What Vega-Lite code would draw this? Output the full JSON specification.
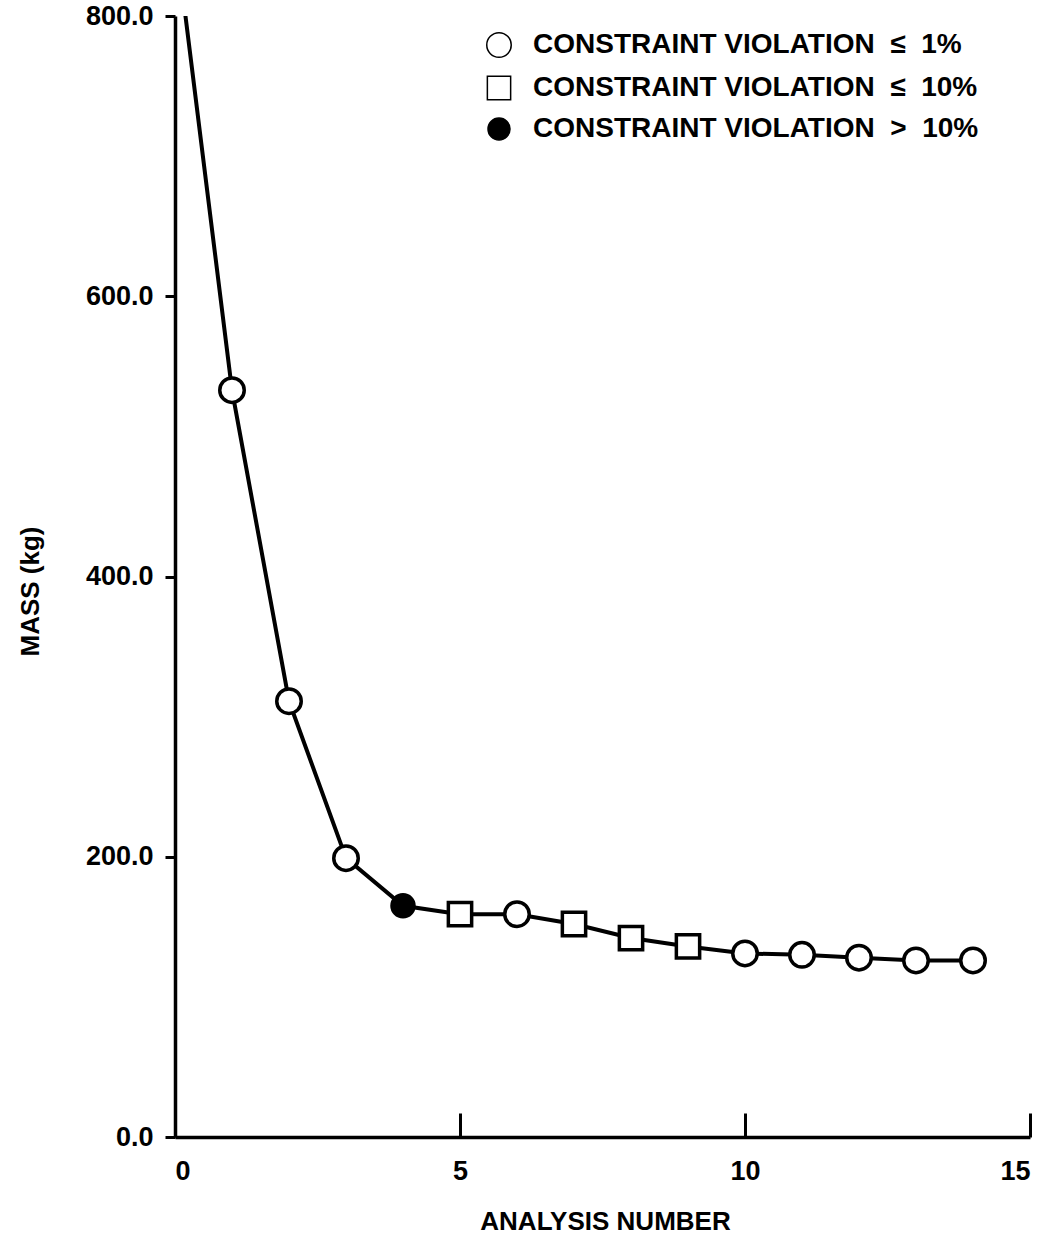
{
  "$schema": "https://vega.github.io/schema/vega-lite/v6.json",
  "width": 855,
  "height": 1121,
  "autosize": {"type": "none"},
  "padding": {"left": 175, "top": 16, "right": 8, "bottom": 120},
  "background": "white",
  "config": {
    "view": {"stroke": null},
    "font": "Liberation Sans",
    "axis": {
      "grid": false,
      "domainColor": "black",
      "domainWidth": 3.5,
      "tickColor": "black",
      "tickWidth": 3,
      "labelColor": "black",
      "labelFont": "Liberation Sans",
      "labelFontWeight": "bold",
      "labelFontSize": 27,
      "titleColor": "black",
      "titleFont": "Liberation Sans",
      "titleFontWeight": "bold",
      "titleFontSize": 26
    },
    "legend": {
      "labelFont": "Liberation Sans",
      "labelFontWeight": "bold",
      "labelFontSize": 28,
      "labelColor": "black",
      "labelLimit": 0
    }
  },
  "data": {
    "values": [
      {"n": 0, "mass": 860, "status": null},
      {"n": 1, "mass": 533, "status": "CONSTRAINT VIOLATION\u00a0\u00a0≤\u00a0\u00a01%"},
      {"n": 2, "mass": 311, "status": "CONSTRAINT VIOLATION\u00a0\u00a0≤\u00a0\u00a01%"},
      {"n": 3, "mass": 199, "status": "CONSTRAINT VIOLATION\u00a0\u00a0≤\u00a0\u00a01%"},
      {"n": 4, "mass": 165, "status": "CONSTRAINT VIOLATION\u00a0\u00a0>\u00a0\u00a010%"},
      {"n": 5, "mass": 159, "status": "CONSTRAINT VIOLATION\u00a0\u00a0≤\u00a0\u00a010%"},
      {"n": 6, "mass": 159, "status": "CONSTRAINT VIOLATION\u00a0\u00a0≤\u00a0\u00a01%"},
      {"n": 7, "mass": 152, "status": "CONSTRAINT VIOLATION\u00a0\u00a0≤\u00a0\u00a010%"},
      {"n": 8, "mass": 142, "status": "CONSTRAINT VIOLATION\u00a0\u00a0≤\u00a0\u00a010%"},
      {"n": 9, "mass": 136, "status": "CONSTRAINT VIOLATION\u00a0\u00a0≤\u00a0\u00a010%"},
      {"n": 10, "mass": 131, "status": "CONSTRAINT VIOLATION\u00a0\u00a0≤\u00a0\u00a01%"},
      {"n": 11, "mass": 130, "status": "CONSTRAINT VIOLATION\u00a0\u00a0≤\u00a0\u00a01%"},
      {"n": 12, "mass": 128, "status": "CONSTRAINT VIOLATION\u00a0\u00a0≤\u00a0\u00a01%"},
      {"n": 13, "mass": 126, "status": "CONSTRAINT VIOLATION\u00a0\u00a0≤\u00a0\u00a01%"},
      {"n": 14, "mass": 126, "status": "CONSTRAINT VIOLATION\u00a0\u00a0≤\u00a0\u00a01%"}
    ]
  },
  "encoding": {
    "x": {
      "field": "n",
      "type": "quantitative",
      "scale": {"domain": [0, 15], "nice": false, "zero": false},
      "axis": {
        "values": [0, 5, 10, 15],
        "format": "d",
        "tickSize": -24,
        "labelPadding": 45,
        "title": "ANALYSIS NUMBER",
        "titleX": 430,
        "titleY": 84,
        "titleBaseline": "middle",
        "titleAlign": "center"
      }
    },
    "y": {
      "field": "mass",
      "type": "quantitative",
      "scale": {"domain": [0, 800], "nice": false},
      "axis": {
        "values": [0, 200, 400, 600, 800],
        "format": ".1f",
        "tickSize": 10,
        "labelPadding": 12,
        "title": "MASS (kg)",
        "titleX": -145,
        "titleY": 575,
        "titleAngle": -90,
        "titleAlign": "center",
        "titleBaseline": "middle"
      }
    }
  },
  "layer": [
    {
      "mark": {"type": "line", "color": "black", "strokeWidth": 4, "clip": true}
    },
    {
      "transform": [{"filter": "datum.status != null"}],
      "mark": {"type": "point", "filled": true, "stroke": "black", "strokeWidth": 3.5, "opacity": 1},
      "encoding": {
        "shape": {
          "field": "status",
          "type": "nominal",
          "scale": {
            "domain": ["CONSTRAINT VIOLATION\u00a0\u00a0≤\u00a0\u00a01%", "CONSTRAINT VIOLATION\u00a0\u00a0≤\u00a0\u00a010%", "CONSTRAINT VIOLATION\u00a0\u00a0>\u00a0\u00a010%"],
            "range": ["circle", "square", "circle"]
          },
          "legend": {
            "title": null, "orient": "none", "legendX": 310, "legendY": 15, "rowPadding": 12, "labelOffset": 20,
            "encode": {"symbols": {"update": {"stroke": {"value": "black"}, "strokeWidth": {"value": 3.5}}}}
          }
        },
        "fill": {
          "field": "status",
          "type": "nominal",
          "scale": {
            "domain": ["CONSTRAINT VIOLATION\u00a0\u00a0≤\u00a0\u00a01%", "CONSTRAINT VIOLATION\u00a0\u00a0≤\u00a0\u00a010%", "CONSTRAINT VIOLATION\u00a0\u00a0>\u00a0\u00a010%"],
            "range": ["white", "white", "black"]
          },
          "legend": {
            "title": null, "orient": "none", "legendX": 310, "legendY": 15, "rowPadding": 12, "labelOffset": 20,
            "encode": {"symbols": {"update": {"stroke": {"value": "black"}, "strokeWidth": {"value": 3.5}}}}
          }
        },
        "size": {
          "field": "status",
          "type": "nominal",
          "scale": {
            "domain": ["CONSTRAINT VIOLATION\u00a0\u00a0≤\u00a0\u00a01%", "CONSTRAINT VIOLATION\u00a0\u00a0≤\u00a0\u00a010%", "CONSTRAINT VIOLATION\u00a0\u00a0>\u00a0\u00a010%"],
            "range": [600, 484, 600]
          },
          "legend": {
            "title": null, "orient": "none", "legendX": 310, "legendY": 15, "rowPadding": 12, "labelOffset": 20,
            "encode": {"symbols": {"update": {"stroke": {"value": "black"}, "strokeWidth": {"value": 3.5}}}}
          }
        }
      }
    }
  ]
}
